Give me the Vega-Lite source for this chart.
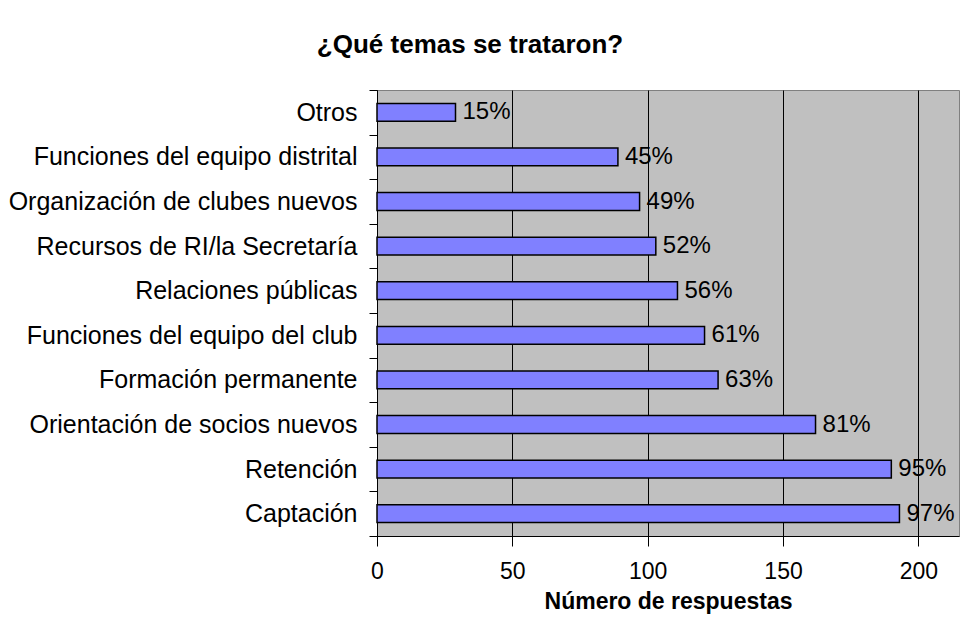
{
  "$schema": "https://vega.github.io/schema/vega-lite/v6.json",
  "autosize": {"type": "none"},
  "padding": {"left": 377, "top": 90, "right": 3, "bottom": 86},
  "width": 582,
  "height": 446,
  "background": "white",
  "title": {
    "text": "¿Qué temas se trataron?",
    "font": "Liberation Sans",
    "fontSize": 26,
    "fontWeight": "bold",
    "color": "black",
    "anchor": "middle",
    "frame": "group",
    "dx": -198,
    "offset": 20
  },
  "data": {
    "values": [
      {"tema": "Otros", "respuestas": 29, "pct": "15%"},
      {"tema": "Funciones del equipo distrital", "respuestas": 89, "pct": "45%"},
      {"tema": "Organización de clubes nuevos", "respuestas": 97, "pct": "49%"},
      {"tema": "Recursos de RI/la Secretaría", "respuestas": 103, "pct": "52%"},
      {"tema": "Relaciones públicas", "respuestas": 111, "pct": "56%"},
      {"tema": "Funciones del equipo del club", "respuestas": 121, "pct": "61%"},
      {"tema": "Formación permanente", "respuestas": 126, "pct": "63%"},
      {"tema": "Orientación de socios nuevos", "respuestas": 162, "pct": "81%"},
      {"tema": "Retención", "respuestas": 190, "pct": "95%"},
      {"tema": "Captación", "respuestas": 193, "pct": "97%"}
    ]
  },
  "encoding": {
    "y": {
      "field": "tema",
      "type": "nominal",
      "sort": null,
      "scale": {"paddingInner": 0, "paddingOuter": 0},
      "axis": {
        "title": null,
        "labelFont": "Liberation Sans",
        "labelFontSize": 25,
        "labelColor": "black",
        "labelPadding": 12,
        "tickBand": "extent",
        "tickSize": 8,
        "tickColor": "black",
        "domainColor": "black",
        "grid": false,
        "labelLimit": 400
      }
    },
    "x": {
      "field": "respuestas",
      "type": "quantitative",
      "scale": {"domain": [0, 215], "nice": false},
      "axis": {
        "values": [0, 50, 100, 150, 200],
        "title": "Número de respuestas",
        "titleFont": "Liberation Sans",
        "titleFontSize": 23,
        "titleFontWeight": "bold",
        "titleColor": "black",
        "titlePadding": 7,
        "labelFont": "Liberation Sans",
        "labelFontSize": 23,
        "labelColor": "black",
        "labelPadding": 14,
        "tickSize": 10,
        "tickColor": "black",
        "domainColor": "black",
        "grid": true,
        "gridColor": "black",
        "gridOpacity": 1,
        "labelFlush": false
      }
    }
  },
  "layer": [
    {
      "mark": {"type": "bar", "height": {"band": 0.4}, "fill": "#8080FF", "stroke": "black", "strokeWidth": 1.5}
    },
    {
      "mark": {"type": "text", "align": "left", "baseline": "middle", "dx": 7, "font": "Liberation Sans", "fontSize": 24, "color": "black"},
      "encoding": {"text": {"field": "pct"}}
    }
  ],
  "config": {
    "view": {"fill": "#C0C0C0", "stroke": "#808080", "strokeWidth": 1}
  }
}
